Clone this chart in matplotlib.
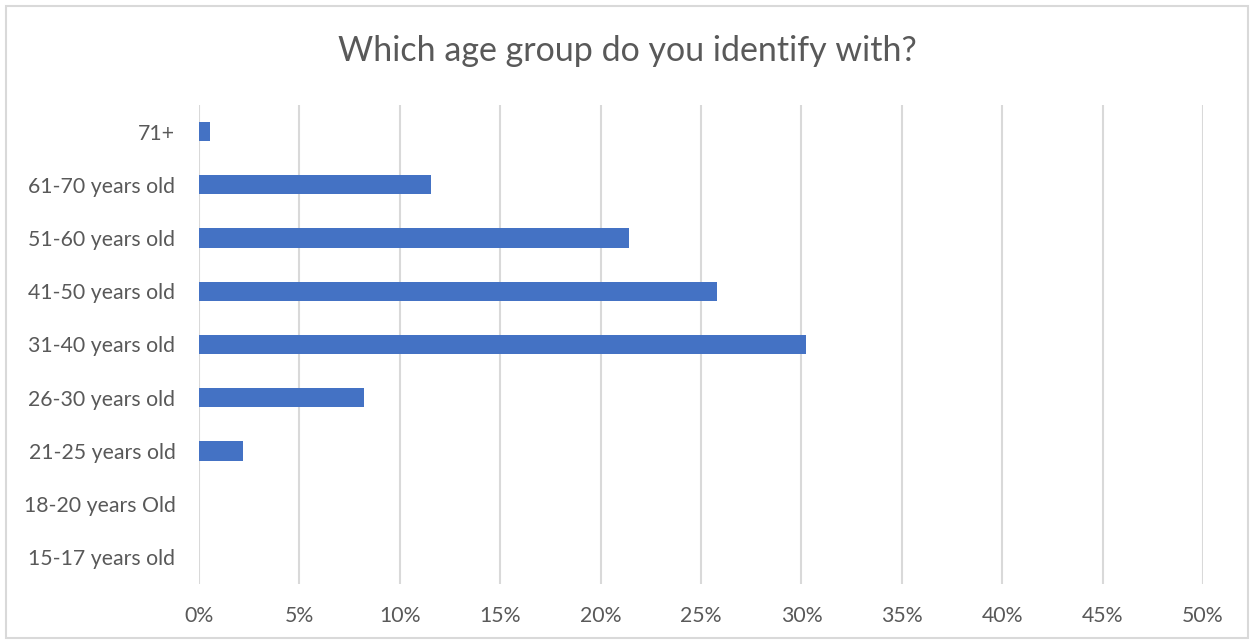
import matplotlib.pyplot as plt
from matplotlib.ticker import PercentFormatter

# survey answers, bottom to top as in the chart
age_groups = ["15-17 years old", "18-20 years Old", "21-25 years old",
              "26-30 years old", "31-40 years old", "41-50 years old",
              "51-60 years old", "61-70 years old", "71+"]
share = [0.0, 0.0, 0.0220, 0.0824, 0.3022, 0.2582, 0.2143, 0.1154, 0.0055]
ticks = [0.0, 0.05, 0.10, 0.15, 0.20, 0.25, 0.30, 0.35, 0.40, 0.45, 0.50]

plt.rcParams['font.family'] = ['Lato', 'DejaVu Sans']
text_col = "#595959"
grid_col = "#d9d9d9"

fig = plt.figure(figsize=(12.54, 6.44), dpi=100)
ax = fig.add_axes([199 / 1254, 1 - 584 / 644, (1203 - 199) / 1254, (584 - 105) / 644])

ax.barh(age_groups, share, height=0.36, color="#4472C4", zorder=3)

ax.set_xlim(0, 0.5)
ax.set_ylim(-0.5, len(age_groups) - 0.5)
ax.set_xticks(ticks)
ax.xaxis.set_major_formatter(PercentFormatter(1.0, decimals=0))
ax.grid(axis="x", color=grid_col, linewidth=1.5, zorder=0)
ax.tick_params(axis="both", length=0, labelsize=15.3, labelcolor=text_col)
ax.tick_params(axis="x", pad=16)
ax.tick_params(axis="y", pad=17)
for s in ax.spines.values():
    s.set_visible(False)

fig.text(0.5, 1 - 51 / 644, "Which age group do you identify with?",
         ha="center", va="center", fontsize=24.5, color=text_col)

# chart border
fig.add_artist(plt.Rectangle((6 / 1254, 6 / 644), 1 - 12 / 1254, 1 - 12 / 644,
                             transform=fig.transFigure, fill=False,
                             edgecolor=grid_col, linewidth=1.5))

fig.savefig("out.png", dpi=100)
